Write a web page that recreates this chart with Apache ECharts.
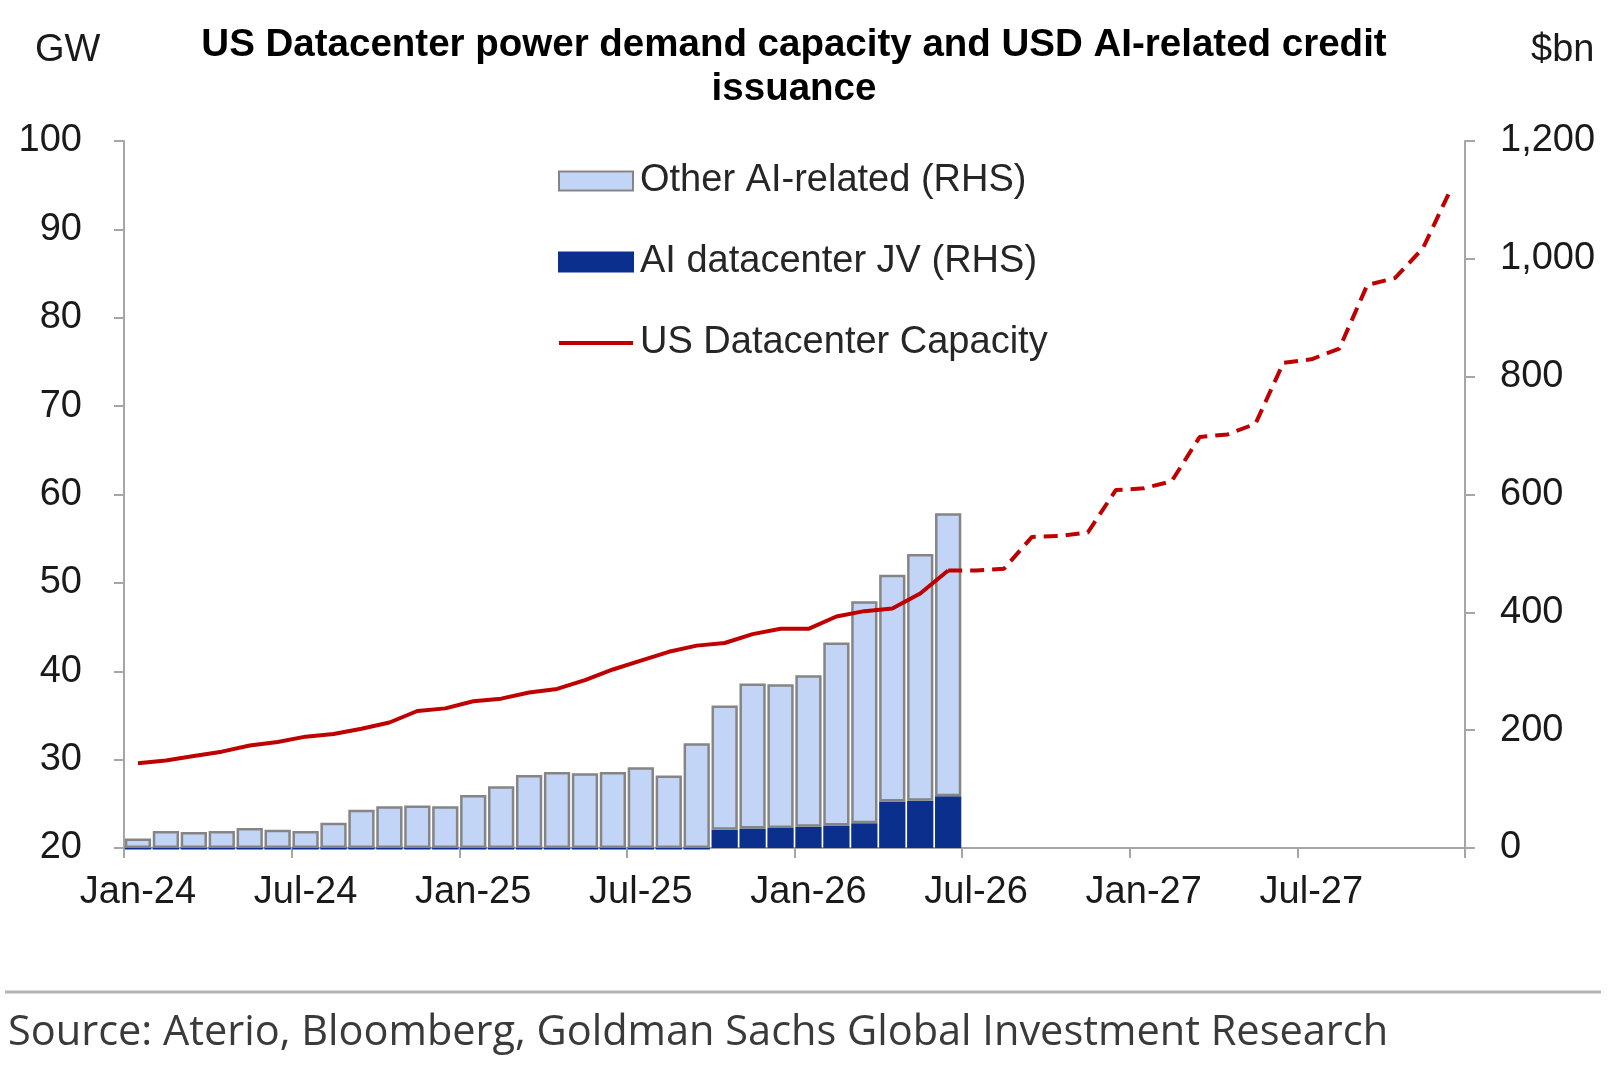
<!DOCTYPE html>
<html>
<head>
<meta charset="utf-8">
<script src="https://cdn.jsdelivr.net/npm/echarts@6/dist/echarts.min.js"></script>
<style>
  html, body { margin: 0; padding: 0; background: #fff; }
  #chart { width: 1609px; height: 1069px; }
</style>
</head>
<body>
<div id="chart"></div>
<script>
// monthly categories Jan-24 .. Dec-27
const months = [
  "Jan-24", "Feb-24", "Mar-24", "Apr-24", "May-24", "Jun-24", "Jul-24", "Aug-24", "Sep-24", "Oct-24", "Nov-24", "Dec-24",
  "Jan-25", "Feb-25", "Mar-25", "Apr-25", "May-25", "Jun-25", "Jul-25", "Aug-25", "Sep-25", "Oct-25", "Nov-25", "Dec-25",
  "Jan-26", "Feb-26", "Mar-26", "Apr-26", "May-26", "Jun-26", "Jul-26", "Aug-26", "Sep-26", "Oct-26", "Nov-26", "Dec-26",
  "Jan-27", "Feb-27", "Mar-27", "Apr-27", "May-27", "Jun-27", "Jul-27", "Aug-27", "Sep-27", "Oct-27", "Nov-27", "Dec-27"
];

// $bn, RHS (bars end Jun-26)
const jvIssuance = [
  0, 0, 0, 0, 0, 0, 0, 0, 0, 0, 0, 0,
  0, 0, 0, 0, 0, 0, 0, 0, 0, 31, 33, 34,
  36, 38, 42, 79, 80, 88
];
const otherIssuance = [
  16, 29, 27, 29, 34, 31, 29, 43, 65, 71, 72, 71,
  90, 105, 124, 129, 127, 129, 137, 123, 178, 211, 246, 244,
  257, 311, 377, 385, 419, 480
];

// GW, LHS
const capacityActual = [
  29.6, 29.9, 30.4, 30.9, 31.6, 32.0, 32.6, 32.9, 33.5, 34.2, 35.5, 35.8,
  36.6, 36.9, 37.6, 38.0, 39.0, 40.2, 41.2, 42.2, 42.9, 43.2, 44.2, 44.8,
  44.8, 46.2, 46.8, 47.1, 48.8, 51.4
];
const capacityForecast = [
  null, null, null, null, null, null, null, null, null, null, null, null,
  null, null, null, null, null, null, null, null, null, null, null, null,
  null, null, null, null, null, 51.4, 51.4, 51.6, 55.2, 55.3, 55.7, 60.5,
  60.7, 61.5, 66.5, 66.8, 68.0, 74.9, 75.3, 76.5, 83.7, 84.5, 87.9, 94.6
];

const chartInstance = echarts.init(document.getElementById("chart"));

const font = "Liberation Sans, Arial, sans-serif";
const axisGray = "#a6a6a6";
const colors = {
  other: "#c2d5f7",
  jv: "#0b2f8c",
  line: "#c00000",
};

const option = {
  backgroundColor: "#fff",
  animation: false,
  title: [
    {
      text: "US Datacenter power demand capacity and USD AI-related credit\nissuance",
      left: 789,
      top: 18,
      textAlign: "center",
      textStyle: {
        fontFamily: font,
        fontSize: 38.5,
        fontWeight: "bold",
        lineHeight: 44,
        color: "#000",
      },
    },
    {
      text: "GW",
      left: 30,
      top: 24,
      textStyle: { fontFamily: font, fontSize: 38, fontWeight: "normal", lineHeight: 44, color: "#1a1a1a" },
    },
    {
      text: "$bn",
      left: 1526,
      top: 24,
      textStyle: { fontFamily: font, fontSize: 38, fontWeight: "normal", lineHeight: 44, color: "#1a1a1a" },
    },
  ],
  grid: {
    left: 124,
    right: 144,
    top: 141,
    bottom: 221,
  },
  legend: {
    orient: "vertical",
    left: 552,
    top: 156,
    itemWidth: 74,
    itemHeight: 19,
    itemGap: 41,
    data: [
      { name: "Other AI-related (RHS)", icon: "rect" },
      { name: "AI datacenter JV (RHS)", icon: "rect" },
      {
        name: "US Datacenter Capacity",
        itemStyle: { opacity: 0 },
        lineStyle: { width: 4 },
      },
    ],
    textStyle: {
      fontFamily: font,
      fontSize: 38,
      lineHeight: 40,
      color: "#262626",
      padding: [0, 0, 0, 2],
    },
  },
  xAxis: {
    type: "category",
    data: months,
    boundaryGap: true,
    axisLine: {
      show: true,
      onZero: false,
      lineStyle: { color: axisGray, width: 2 },
    },
    axisTick: {
      show: true,
      interval: 5,
      length: 10,
      lineStyle: { color: axisGray, width: 2 },
    },
    axisLabel: {
      interval: 5,
      margin: 26,
      fontFamily: font,
      fontSize: 38,
      color: "#1a1a1a",
    },
    splitLine: { show: false },
  },
  yAxis: [
    {
      type: "value",
      position: "left",
      min: 20,
      max: 100,
      interval: 10,
      axisLine: { show: true, lineStyle: { color: axisGray, width: 2 } },
      axisTick: { show: true, length: 10, lineStyle: { color: axisGray, width: 2 } },
      axisLabel: {
        margin: 42,
        fontFamily: font,
        fontSize: 38,
        color: "#1a1a1a",
      },
      splitLine: { show: false },
    },
    {
      type: "value",
      position: "right",
      min: 0,
      max: 1200,
      interval: 200,
      axisLine: { show: true, lineStyle: { color: axisGray, width: 2 } },
      axisTick: { show: true, length: 10, lineStyle: { color: axisGray, width: 2 } },
      axisLabel: {
        margin: 35,
        fontFamily: font,
        fontSize: 38,
        color: "#1a1a1a",
        formatter: (v) => v.toLocaleString("en-US"),
      },
      splitLine: { show: false },
    },
  ],
  series: [
    {
      name: "AI datacenter JV (RHS)",
      type: "bar",
      stack: "credit",
      yAxisIndex: 1,
      data: jvIssuance,
      barCategoryGap: "6%",
      itemStyle: {
        color: colors.jv,
        borderColor: colors.jv,
        borderWidth: 3,
      },
    },
    {
      name: "Other AI-related (RHS)",
      type: "bar",
      stack: "credit",
      yAxisIndex: 1,
      data: otherIssuance,
      barCategoryGap: "6%",
      itemStyle: {
        color: colors.other,
        borderColor: "#858585",
        borderWidth: 2.5,
      },
    },
    {
      name: "US Datacenter Capacity",
      type: "line",
      yAxisIndex: 0,
      data: capacityActual,
      symbol: "none",
      lineStyle: { color: colors.line, width: 4 },
      itemStyle: { color: colors.line },
      z: 5,
    },
    {
      name: "forecast",
      type: "line",
      yAxisIndex: 0,
      data: capacityForecast,
      symbol: "none",
      lineStyle: { color: colors.line, width: 4, type: [14, 8] },
      itemStyle: { color: colors.line },
      z: 5,
    },
  ],
  graphic: [
    {
      type: "line",
      shape: { x1: 5, y1: 992, x2: 1601, y2: 992 },
      style: { stroke: "#b3b3b3", lineWidth: 3 },
    },
    {
      type: "text",
      left: 8,
      top: 1012,
      style: {
        text: "Source: Aterio, Bloomberg, Goldman Sachs Global Investment Research",
        font: "41.5px 'Open Sans', sans-serif",
        fill: "#3a3a3a",
      },
    },
  ],
};

chartInstance.setOption(option);
</script>
</body>
</html>
